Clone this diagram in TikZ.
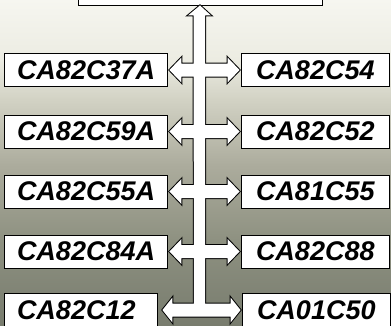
\documentclass[tikz,border=0pt]{standalone}
\usepackage{fontspec}
\setmainfont{Liberation Sans}
\usetikzlibrary{calc}
\definecolor{bgA}{RGB}{246,246,240}
\definecolor{bgB}{RGB}{236,236,226}
\definecolor{bgC}{RGB}{210,210,196}
\definecolor{bgD}{RGB}{172,172,157}
\definecolor{bgE}{RGB}{142,145,129}
\definecolor{bgF}{RGB}{120,124,110}
\tikzset{
  lbl/.style={draw=black, line width=0.9pt, fill=white, minimum height=33pt,
    inner xsep=13pt, inner ysep=0pt, align=left,
    font=\fontsize{27}{30}\selectfont\bfseries\itshape},
  lbox/.style={lbl, text width=137pt},
  lboxs/.style={lbl, text width=127pt},
  rbox/.style={lbl, inner xsep=15pt, text width=118pt},
  outl/.style={draw=black, line width=2pt, line join=miter},
  fillw/.style={fill=white, draw=none}
}
% double arrow between left node #1 and right node #2, left tip offset #3, head length #4
\newcommand\arrpath[4]{%
  ($(#1.east)+(#3,0)$) -- ($(#1.east)+(#3+#4,-12.5)$) -- ($(#1.east)+(#3+#4,-6.5)$)
  -- ($(#2.west)+(-1-#4,-6.5)$) -- ($(#2.west)+(-1-#4,-12.5)$) -- ($(#2.west)+(-1,0)$)
  -- ($(#2.west)+(-1-#4,12.5)$) -- ($(#2.west)+(-1-#4,6.5)$)
  -- ($(#1.east)+(#3+#4,6.5)$) -- ($(#1.east)+(#3+#4,12.5)$) -- cycle}
\newcommand\trunkpath{%
  ($(L5.east)!0.5!(R5.west)+(-5.5,0)$) -- ($(T.south)+(-6.5,10)$) -- ($(T.south)+(-12,10)$)
  -- (T.south) -- ($(T.south)+(11,10)$) -- ($(T.south)+(5,10)$)
  -- ($(L5.east)!0.5!(R5.west)+(5.5,0)$) -- cycle}
\begin{document}
\begin{tikzpicture}[x=1pt, y=-1pt]
\path[use as bounding box, clip] (0,0) rectangle (391,325);
\shade[top color=bgA, bottom color=bgB] (-1,-1) rectangle (392,60);
\shade[top color=bgB, bottom color=bgC] (-1,59.5) rectangle (392,100);
\shade[top color=bgC, bottom color=bgD] (-1,99.5) rectangle (392,165);
\shade[top color=bgD, bottom color=bgE] (-1,164.5) rectangle (392,240);
\shade[top color=bgE, bottom color=bgF] (-1,239.5) rectangle (392,326);
% top box
\node[draw=black, line width=0.9pt, fill=white, minimum width=244pt, minimum height=30pt, inner sep=0pt] (T) at (200,-10) {};
% left boxes
\node[lbox] (L1) at (85.5,70) {CA82C37A};
\node[lbox] (L2) at (85.5,131.5) {CA82C59A};
\node[lbox] (L3) at (85.5,191.5) {CA82C55A};
\node[lbox] (L4) at (85.5,251.5) {CA82C84A};
\node[lboxs] (L5) at (80.5,310) {CA82C12};
% right boxes
\node[rbox] (R1) at (315,70) {CA82C54};
\node[rbox] (R2) at (315,131.5) {CA82C52};
\node[rbox] (R3) at (315,191.5) {CA81C55};
\node[rbox] (R4) at (315,251.5) {CA82C88};
\node[rbox] (R5) at (316,310) {CA01C50};
% connectors: outline pass then white fill pass
\path[outl] \trunkpath;
\path[outl] \arrpath{L1}{R1}{2}{12};
\path[outl] \arrpath{L2}{R2}{2}{12};
\path[outl] \arrpath{L3}{R3}{2}{12};
\path[outl] \arrpath{L4}{R4}{2}{12};
\path[outl] \arrpath{L5}{R5}{5}{10};
\path[fillw] \trunkpath;
\path[fillw] \arrpath{L1}{R1}{2}{12};
\path[fillw] \arrpath{L2}{R2}{2}{12};
\path[fillw] \arrpath{L3}{R3}{2}{12};
\path[fillw] \arrpath{L4}{R4}{2}{12};
\path[fillw] \arrpath{L5}{R5}{5}{10};
\end{tikzpicture}
\end{document}
